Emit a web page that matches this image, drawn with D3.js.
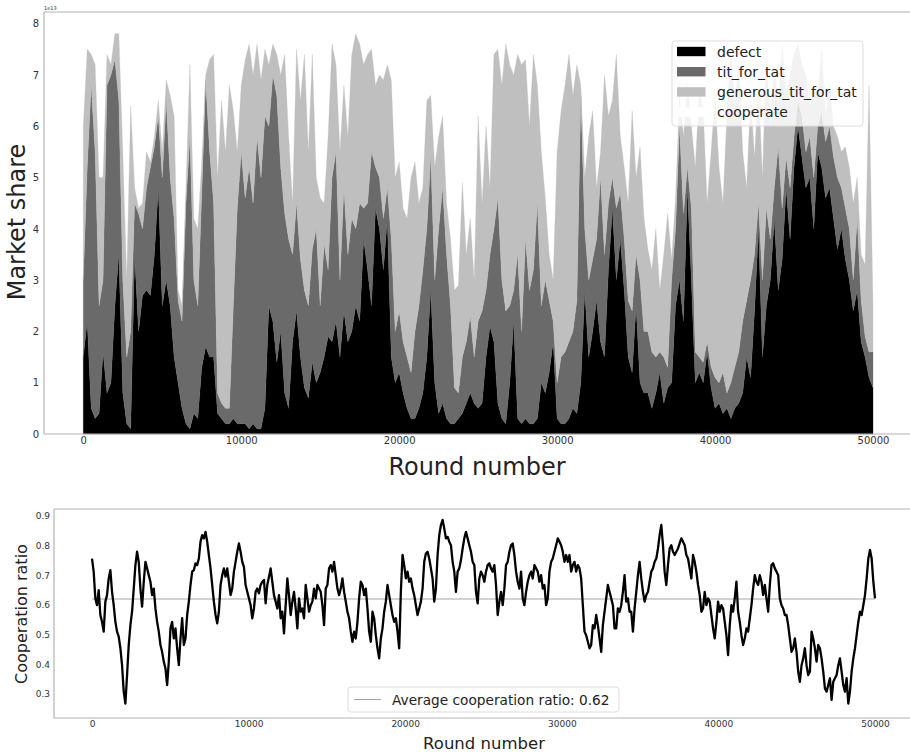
<!DOCTYPE html>
<html>
<head>
<meta charset="utf-8">
<script src="https://cdnjs.cloudflare.com/ajax/libs/d3/7.8.5/d3.min.js"></script>
<style>
	body { margin: 0; background: #fff; }
	svg { display: block; font-family: "DejaVu Sans", sans-serif; }
</style>
</head>
<body>
<svg id="chart" width="910" height="752"></svg>
<script>
'use strict';

// Market share per strategy (units of 1e13), one sample every 250 rounds
var shareStep = 250;
var strategies = ['defect', 'tit_for_tat', 'generous_tit_for_tat', 'cooperate'];
var strategyColors = ['#000000', '#6a6a6a', '#bfbfbf', '#ffffff'];

var defect = [1.5,2.2,0.5,0.3,0.4,1.6,0.8,1.0,2.5,3.5,
	0.8,0.2,0.1,3.5,2.0,2.7,2.8,2.7,3.5,4.8,
	2.5,3.0,2.5,1.5,1.0,0.5,0.2,0.1,0.4,0.3,
	1.3,1.7,1.5,1.5,0.4,0.3,0.2,0.2,0.3,0.2,
	0.2,0.2,0.1,0.2,0.1,0.1,0.5,2.5,2.2,1.4,
	2.0,0.8,0.5,1.8,2.4,1.5,0.9,0.7,1.4,1.0,
	1.2,1.5,1.9,1.8,2.2,1.5,2.4,1.8,2.0,2.5,
	2.2,3.8,3.2,2.5,4.4,4.0,3.2,4.2,1.5,1.0,
	1.2,0.8,0.5,0.3,0.3,0.5,0.8,1.5,2.8,1.0,
	0.4,0.6,0.3,0.2,0.2,0.3,0.4,0.6,0.8,0.6,
	0.5,0.6,1.5,2.1,1.8,0.6,0.3,0.2,1.0,2.2,
	0.3,0.2,0.3,0.2,0.2,0.3,1.0,0.8,1.2,1.8,
	0.3,0.2,0.2,0.3,0.5,0.4,1.0,2.8,1.5,2.0,
	2.6,1.8,1.5,3.2,4.4,3.0,3.8,2.8,1.5,1.2,
	2.5,1.0,0.8,0.8,0.5,0.8,1.2,0.6,0.9,1.0,
	2.5,3.0,2.2,4.8,3.0,1.0,1.2,1.0,1.6,0.9,
	0.5,0.6,0.4,0.5,0.3,0.5,0.6,0.8,1.5,1.1,
	2.4,4.0,1.5,2.5,3.0,4.2,2.8,3.4,4.8,3.8,
	5.2,6.0,5.4,4.8,5.0,4.0,5.5,5.2,4.6,4.8,
	4.2,3.6,4.0,3.4,3.0,2.4,2.8,1.8,1.5,1.1,
	0.9];

var titForTat = [1.5,3.0,6.3,5.2,2.1,1.4,6.0,6.0,4.8,3.0,
	2.2,1.3,1.9,1.0,2.3,1.3,2.0,2.5,2.1,1.4,
	2.5,3.5,2.5,2.7,1.6,1.7,4.3,5.7,2.6,2.2,
	3.4,5.2,4.0,3.0,0.4,0.3,0.3,0.3,2.2,4.2,
	5.3,4.4,5.1,4.3,5.7,4.9,5.7,3.5,4.8,5.2,
	3.2,3.5,3.3,1.7,2.1,1.9,1.9,1.8,2.2,3.0,
	1.3,2.2,1.3,3.2,3.3,1.5,2.4,1.7,2.2,1.5,
	2.3,0.6,1.3,3.0,0.8,1.0,1.0,0.6,2.3,1.0,
	1.2,1.0,1.0,0.9,1.7,2.0,2.4,2.5,2.6,2.0,
	3.6,4.2,3.2,2.3,0.7,0.5,1.1,1.2,1.5,0.9,
	1.7,1.8,1.3,1.4,2.2,4.0,2.7,2.2,1.5,0.6,
	3.2,1.8,3.5,2.6,3.0,4.2,1.5,2.2,1.4,0.4,
	0.7,1.3,1.4,1.5,1.5,2.2,5.6,1.2,1.5,1.4,
	1.2,3.2,2.0,1.3,0.6,1.4,0.9,1.0,1.1,1.2,
	1.0,2.0,1.2,1.2,1.1,0.7,0.4,0.9,0.4,2.0,
	1.5,3.0,2.1,0.4,1.4,0.6,0.3,0.4,0.2,0.4,
	0.6,0.4,0.8,0.3,0.7,0.8,1.0,1.4,1.1,1.9,
	1.1,0.5,1.5,1.9,0.8,0.6,2.8,1.0,0.6,1.0,
	0.6,0.5,0.8,0.7,0.8,1.0,0.5,1.1,1.1,1.2,
	1.2,1.4,0.8,1.0,1.0,0.6,1.4,0.8,0.4,0.5,
	0.7];

var generousTitForTat = [3.0,2.3,0.6,1.7,2.5,2.0,0.6,0.2,0.5,1.3,
	2.5,1.5,4.4,0.3,0.1,0.5,0.7,0.1,0.2,0.3,
	0.5,0.4,1.6,2.0,0.2,0.3,0.3,1.4,1.2,1.5,
	0.6,0.1,1.8,2.9,4.2,5.9,5.0,6.3,3.8,1.1,
	1.3,2.7,2.4,2.5,1.8,1.9,1.3,1.2,0.6,0.8,
	1.8,3.1,2.0,1.0,3.0,3.1,4.6,3.0,3.8,1.0,
	2.1,0.8,2.6,2.6,1.7,2.5,2.0,2.3,3.2,3.8,
	3.1,2.8,2.9,2.0,1.6,2.0,2.7,2.4,3.1,3.0,
	2.9,2.6,2.7,3.8,3.3,2.0,1.6,2.5,1.2,2.2,
	1.8,1.4,1.0,1.3,1.9,2.1,3.4,1.7,1.9,1.5,
	4.0,2.1,3.2,1.3,3.4,2.9,3.8,5.2,4.7,4.2,
	3.9,5.2,3.5,3.2,4.2,2.3,3.0,1.6,0.9,0.8,
	4.5,4.8,5.2,5.6,4.6,4.6,0.2,1.0,2.8,2.9,
	1.0,0.5,3.5,1.7,1.5,3.0,1.1,1.4,1.9,3.9,
	1.5,2.6,2.2,1.6,1.6,2.5,1.2,2.0,3.0,0.4,
	0.6,0.6,1.5,1.6,1.6,3.6,5.2,4.9,2.7,4.2,
	5.5,4.2,3.3,5.4,6.5,5.1,5.7,3.3,2.2,3.6,
	1.9,2.3,2.0,3.0,2.2,2.4,0.8,3.2,1.2,2.2,
	1.6,1.1,1.0,1.5,0.6,1.8,0.6,1.2,0.5,0.8,
	0.6,0.8,0.7,1.2,1.2,1.5,0.8,0.9,1.4,5.2,
	0.9];

// Cooperation ratio, 470 evenly spaced samples from round 0 to 50000
var cooperationRatio = [.756,.712,.622,.599,.650,.566,.543,.510,.611,.633,
	.689,.717,.644,.599,.543,.510,.493,.454,.397,.308,
	.268,.364,.465,.532,.577,.655,.734,.779,.745,.655,
	.594,.678,.745,.723,.700,.678,.633,.655,.588,.543,
	.510,.465,.442,.409,.386,.330,.409,.521,.543,.487,
	.521,.454,.397,.487,.555,.465,.487,.566,.611,.667,
	.712,.717,.740,.734,.756,.813,.835,.824,.846,.813,
	.768,.723,.667,.611,.566,.538,.577,.667,.700,.723,
	.695,.723,.678,.633,.655,.712,.745,.779,.807,.779,
	.745,.728,.667,.644,.622,.599,.555,.588,.644,.655,
	.639,.667,.678,.684,.605,.667,.695,.723,.678,.633,
	.611,.588,.633,.555,.577,.504,.599,.689,.633,.566,
	.611,.644,.588,.521,.622,.577,.588,.555,.667,.622,
	.577,.599,.611,.655,.622,.667,.655,.644,.599,.532,
	.655,.667,.723,.734,.712,.745,.700,.655,.633,.655,
	.689,.644,.611,.577,.555,.510,.476,.510,.487,.543,
	.622,.678,.667,.633,.655,.588,.510,.476,.577,.555,
	.498,.454,.420,.487,.521,.577,.611,.667,.633,.599,
	.566,.543,.555,.510,.454,.644,.768,.734,.689,.712,
	.678,.689,.655,.633,.599,.566,.588,.611,.655,.745,
	.773,.779,.756,.723,.689,.611,.655,.768,.835,.869,
	.886,.857,.824,.829,.813,.801,.745,.712,.644,.712,
	.723,.751,.790,.824,.846,.824,.801,.779,.745,.734,
	.644,.605,.689,.712,.700,.678,
	.712,.734,.740,.723,.712,.734,.667,.566,.611,.644,
	.599,.655,.734,.745,.779,.801,.807,.768,.712,.678,
	.655,.712,.622,.599,.644,.678,.700,.712,.689,.734,
	.723,.712,.678,.700,.655,.667,.599,.622,.712,.745,
	.756,.779,.801,.824,.813,.801,.779,.745,.768,.745,
	.768,.712,.734,.745,.712,.734,.723,.689,.599,.510,
	.498,.476,.454,.465,.532,.521,.566,.532,.487,.442,
	.532,.577,.622,.667,.644,.622,.599,.521,.521,.588,
	.577,.599,.644,.700,.611,.622,.577,.577,.510,.588,
	.644,.700,.745,.689,.644,.611,.633,.644,.678,.712,
	.723,.745,.756,.790,.835,.869,.801,.712,.667,.734,
	.790,.801,.779,.768,.779,.790,.807,.824,.813,.801,
	.768,.756,.723,.689,.768,.745,.712,.667,.633,.577,
	.588,.644,.599,.622,.611,.566,.521,.487,.543,.611,
	.577,.599,.588,.543,.498,.431,.532,.599,.577,.622,
	.678,.577,.543,.498,.465,.487,.521,.510,.555,.599,
	.655,.700,.678,.667,.700,.678,.633,.667,.622,.577,
	.667,.734,.740,.723,.712,.700,.622,.599,.588,.566,
	.566,.532,.487,.442,.454,.487,.442,.375,.341,.397,
	.420,.454,.397,.364,.375,.510,.487,.454,.409,.465,
	.454,.420,.375,.319,.308,.330,.353,.280,.341,.353,
	.364,.397,.420,.375,.330,.308,.353,.268,.308,.375,
	.420,.454,.498,.543,.577,.566,.599,.633,.689,.756,
	.785,.756,.678,.622];
var averageRatio = 0.62;

var shareTicks = [0, 1, 2, 3, 4, 5, 6, 7, 8];
var roundTicks = [0, 10000, 20000, 30000, 40000, 50000];
var ratioTicks = [0.3, 0.4, 0.5, 0.6, 0.7, 0.8, 0.9];

var svg = d3.select('#chart');
var spineColor = '#b3b3b3',
	textColor = '#333333';

// ---------- top panel: stacked market share ----------
var topBox = { left: 44, right: 910, top: 12, bottom: 434 };
var xTop = d3.scaleLinear().domain([0, 50000]).range([83.3, 873]);
var yTop = d3.scaleLinear().domain([0, 8]).range([434, 23.6]);

var shareRows = defect.map(function (d, i) {
	return {
		round: i * shareStep,
		defect: d,
		tit_for_tat: titForTat[i],
		generous_tit_for_tat: generousTitForTat[i]
	};
});

var layers = d3.stack().keys(strategies.slice(0, 3))(shareRows);

var area = d3.area()
	.x(function (d) { return xTop(d.data.round); })
	.y0(function (d) { return yTop(d[0]); })
	.y1(function (d) { return yTop(d[1]); });

svg.append('g').selectAll('path')
	.data(layers)
	.enter()
	.append('path')
	.attr('d', area)
	.attr('fill', function (d, i) { return strategyColors[i]; })
	.attr('stroke', function (d, i) { return strategyColors[i]; })
	.attr('stroke-width', 0.3);

// spines (no right spine visible)
var spinesTop = svg.append('g').attr('stroke', spineColor).attr('stroke-width', 1.2);
spinesTop.append('line').attr('x1', topBox.left).attr('x2', topBox.right).attr('y1', topBox.top).attr('y2', topBox.top);
spinesTop.append('line').attr('x1', topBox.left).attr('x2', topBox.right).attr('y1', topBox.bottom).attr('y2', topBox.bottom);
spinesTop.append('line').attr('x1', topBox.left).attr('x2', topBox.left).attr('y1', topBox.top).attr('y2', topBox.bottom);

var yAxisTop = svg.append('g')
	.attr('transform', 'translate(' + topBox.left + ',0)')
	.call(d3.axisLeft(yTop).tickValues(shareTicks).tickSize(0).tickPadding(5).tickFormat(d3.format('d')));
var xAxisTop = svg.append('g')
	.attr('transform', 'translate(0,' + topBox.bottom + ')')
	.call(d3.axisBottom(xTop).tickValues(roundTicks).tickSize(0).tickPadding(3).tickFormat(d3.format('d')));
[yAxisTop, xAxisTop].forEach(function (ax) {
	ax.select('.domain').remove();
	ax.selectAll('text').attr('font-size', 10).attr('fill', textColor).attr('font-family', 'DejaVu Sans');
});

svg.append('text')
	.attr('x', 44).attr('y', 10)
	.attr('font-size', 5).attr('fill', textColor)
	.text('1e13');

svg.append('text')
	.attr('transform', 'translate(17,222) rotate(-90)')
	.attr('text-anchor', 'middle').attr('dominant-baseline', 'central')
	.attr('font-size', 24).attr('fill', '#222')
	.text('Market share');

svg.append('text')
	.attr('x', 477).attr('y', 467)
	.attr('text-anchor', 'middle').attr('dominant-baseline', 'central')
	.attr('font-size', 24).attr('fill', '#222')
	.text('Round number');

// legend
var legend = svg.append('g').attr('transform', 'translate(672,41)');
legend.append('rect')
	.attr('width', 191).attr('height', 85).attr('rx', 3)
	.attr('fill', '#fff').attr('fill-opacity', 0.8)
	.attr('stroke', '#dddddd').attr('stroke-width', 1);
var legendRows = legend.selectAll('g.row')
	.data(strategies)
	.enter()
	.append('g')
	.attr('class', 'row')
	.attr('transform', function (d, i) { return 'translate(0,' + (10.5 + i * 20.2) + ')'; });
legendRows.append('rect')
	.attr('x', 5).attr('y', -4.7).attr('width', 28.5).attr('height', 9.4)
	.attr('fill', function (d, i) { return strategyColors[i]; });
legendRows.append('text')
	.attr('x', 45).attr('y', 0)
	.attr('dominant-baseline', 'central')
	.attr('font-size', 14).attr('fill', '#222')
	.text(function (d) { return d; });

// ---------- bottom panel: cooperation ratio ----------
var botBox = { left: 54, right: 910, top: 509, bottom: 718 };
var xBot = d3.scaleLinear().domain([0, 50000]).range([92, 875]);
var yBot = d3.scaleLinear().domain([0.3, 0.9]).range([694, 515.8]);
var ratioStep = 50000 / (cooperationRatio.length - 1);

svg.append('line')
	.attr('x1', xBot(0)).attr('x2', xBot(50000))
	.attr('y1', yBot(averageRatio)).attr('y2', yBot(averageRatio))
	.attr('stroke', '#a6a6a6').attr('stroke-width', 1.1);

var ratioLine = d3.line()
	.x(function (d, i) { return xBot(i * ratioStep); })
	.y(function (d) { return yBot(d); });

svg.append('path')
	.datum(cooperationRatio)
	.attr('d', ratioLine)
	.attr('fill', 'none')
	.attr('stroke', '#000')
	.attr('stroke-width', 2.3)
	.attr('stroke-linejoin', 'round');

var spinesBot = svg.append('g').attr('stroke', spineColor).attr('stroke-width', 1.2);
spinesBot.append('line').attr('x1', botBox.left).attr('x2', botBox.right).attr('y1', botBox.top).attr('y2', botBox.top);
spinesBot.append('line').attr('x1', botBox.left).attr('x2', botBox.right).attr('y1', botBox.bottom).attr('y2', botBox.bottom);
spinesBot.append('line').attr('x1', botBox.left).attr('x2', botBox.left).attr('y1', botBox.top).attr('y2', botBox.bottom);

var yAxisBot = svg.append('g')
	.attr('transform', 'translate(' + botBox.left + ',0)')
	.call(d3.axisLeft(yBot).tickValues(ratioTicks).tickSize(0).tickPadding(4).tickFormat(d3.format('.1f')));
var xAxisBot = svg.append('g')
	.attr('transform', 'translate(0,' + botBox.bottom + ')')
	.call(d3.axisBottom(xBot).tickValues(roundTicks).tickSize(0).tickPadding(3).tickFormat(d3.format('d')));
[yAxisBot, xAxisBot].forEach(function (ax) {
	ax.select('.domain').remove();
	ax.selectAll('text').attr('font-size', 9).attr('fill', textColor).attr('font-family', 'DejaVu Sans');
});

svg.append('text')
	.attr('transform', 'translate(21,614) rotate(-90)')
	.attr('text-anchor', 'middle').attr('dominant-baseline', 'central')
	.attr('font-size', 16).attr('fill', '#222')
	.text('Cooperation ratio');

svg.append('text')
	.attr('x', 484).attr('y', 743)
	.attr('text-anchor', 'middle').attr('dominant-baseline', 'central')
	.attr('font-size', 16.5).attr('fill', '#222')
	.text('Round number');

var legendBot = svg.append('g').attr('transform', 'translate(348,687)');
legendBot.append('rect')
	.attr('width', 271).attr('height', 25).attr('rx', 3)
	.attr('fill', '#fff').attr('fill-opacity', 0.8)
	.attr('stroke', '#dddddd').attr('stroke-width', 1);
legendBot.append('line')
	.attr('x1', 6).attr('x2', 33).attr('y1', 12.5).attr('y2', 12.5)
	.attr('stroke', '#a6a6a6').attr('stroke-width', 1.1);
legendBot.append('text')
	.attr('x', 44).attr('y', 12.5)
	.attr('dominant-baseline', 'central')
	.attr('font-size', 13.7).attr('fill', '#222')
	.text('Average cooperation ratio: ' + averageRatio.toFixed(2));
</script>
</body>
</html>
